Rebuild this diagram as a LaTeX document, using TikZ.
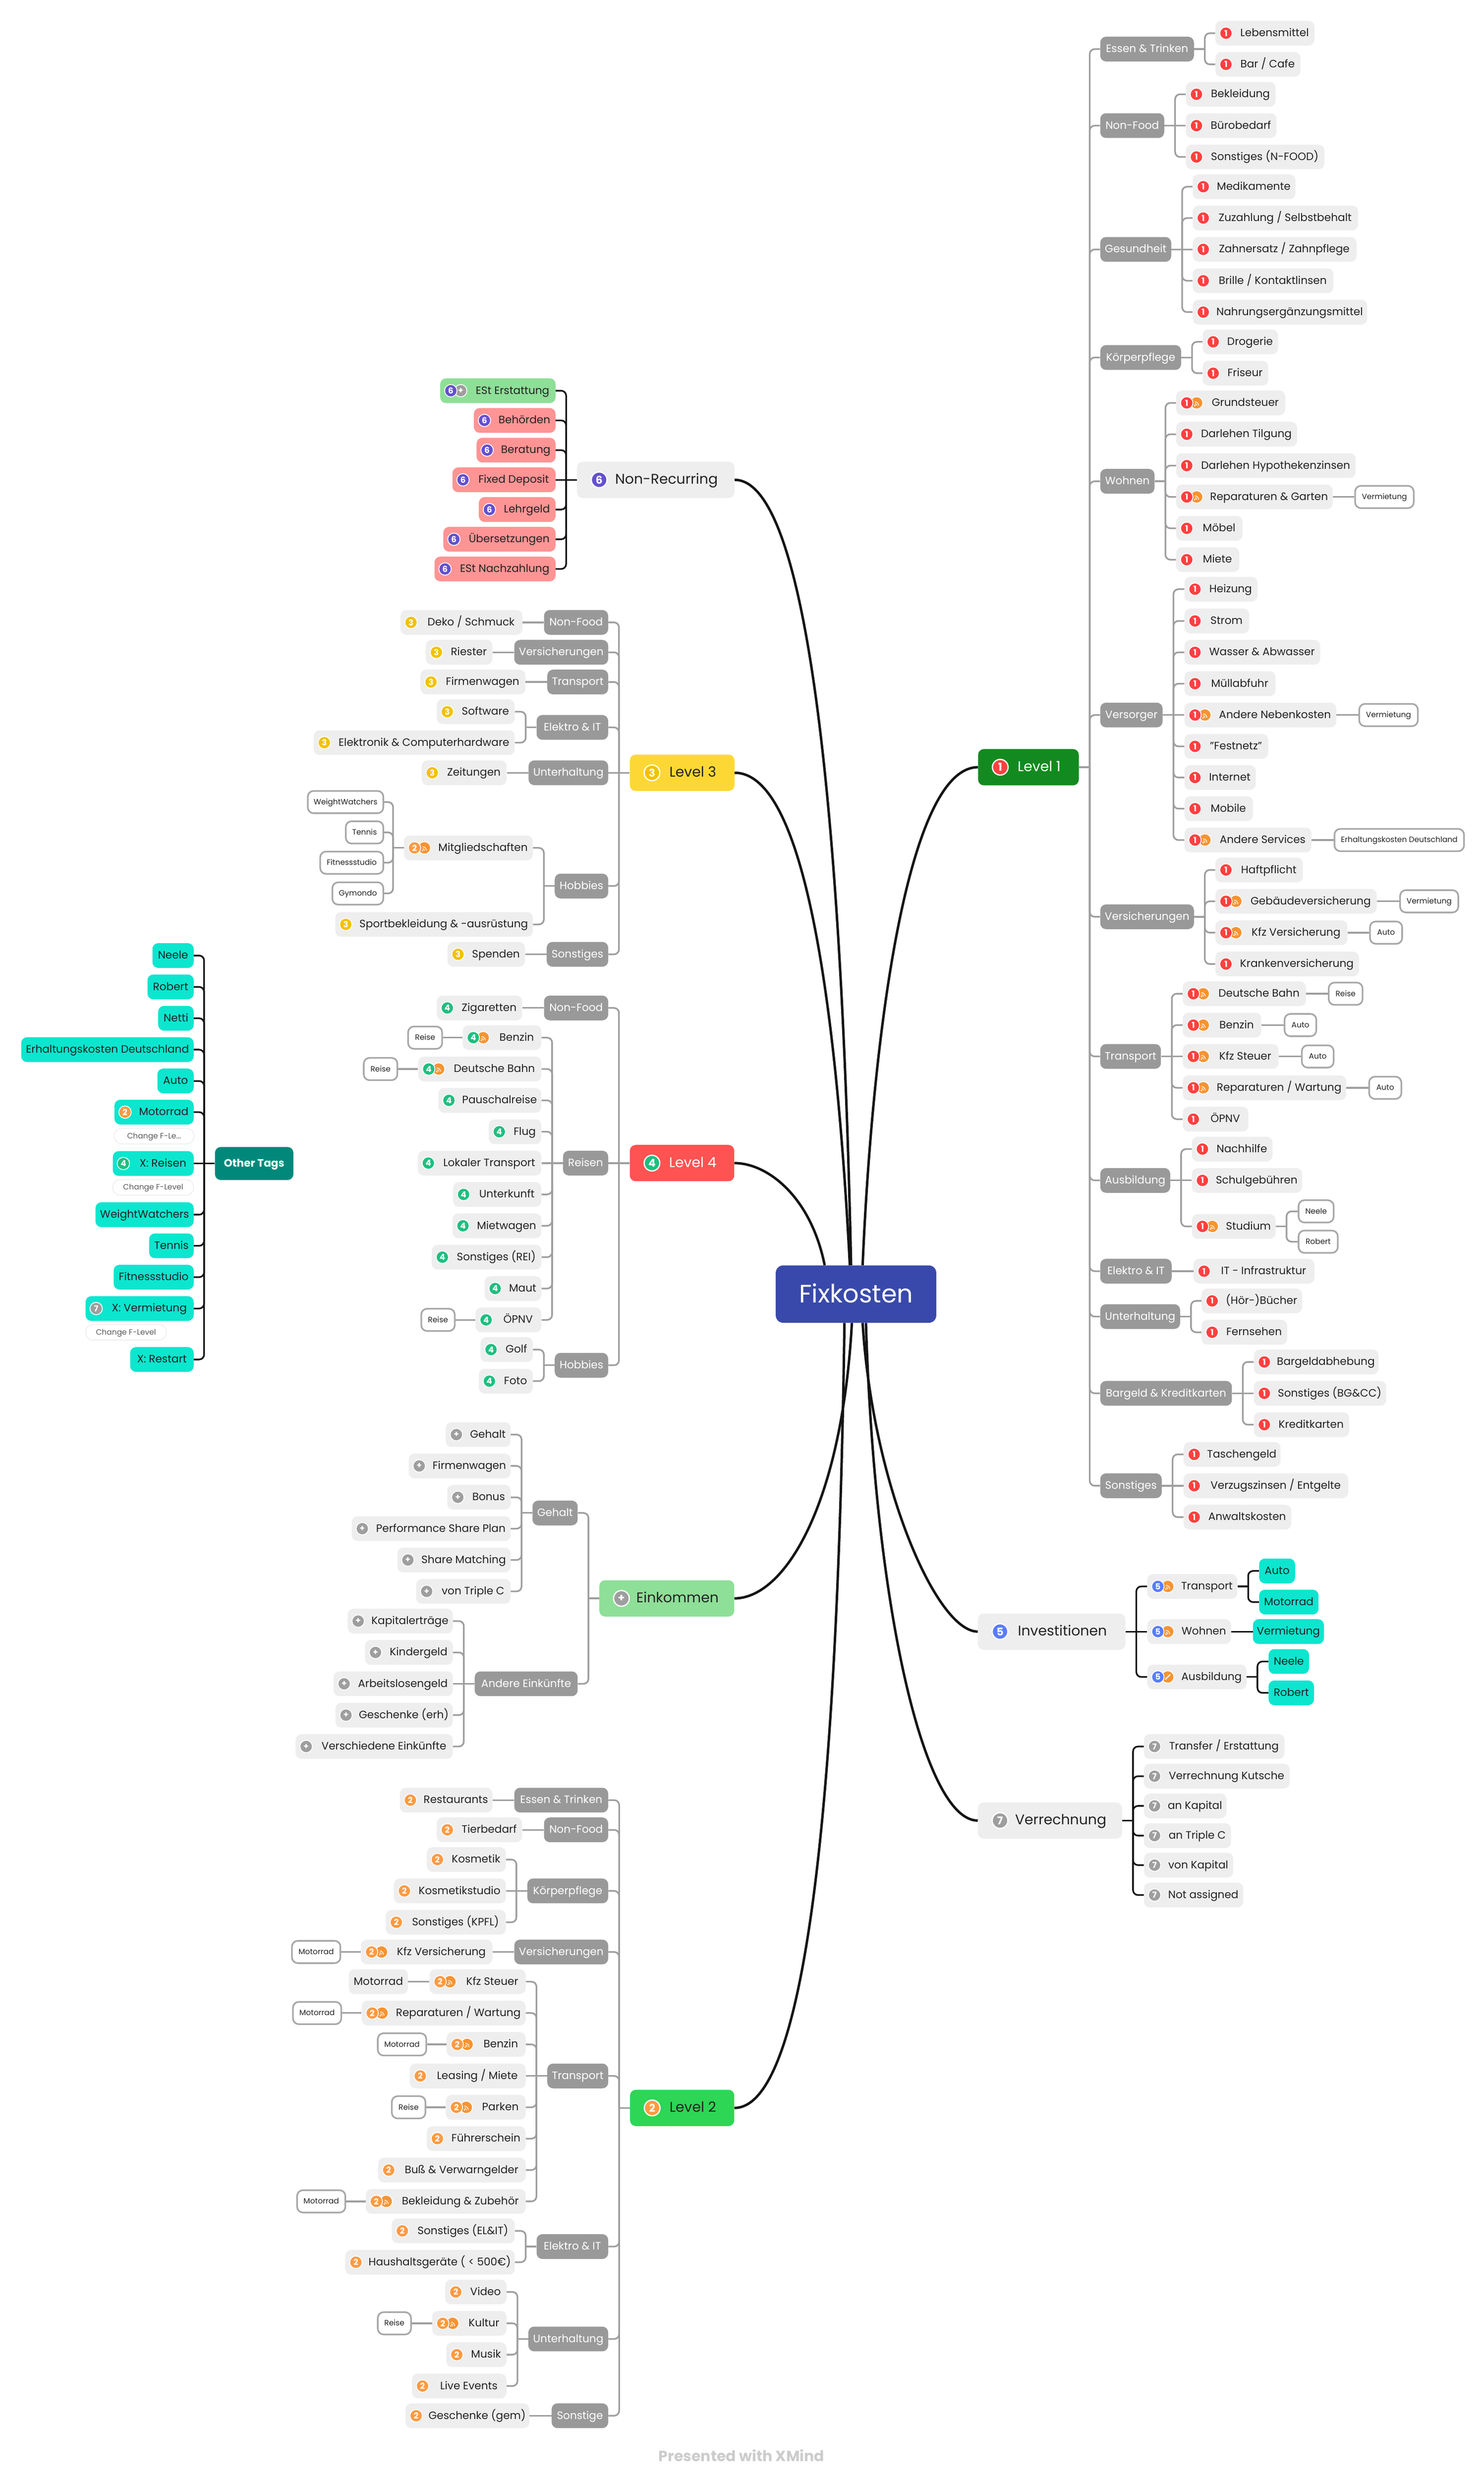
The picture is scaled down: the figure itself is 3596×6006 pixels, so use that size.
\documentclass[tikz,border=0pt]{standalone}
\usepackage{fontspec}
\setmainfont{Poppins}
\usetikzlibrary{calc}

\definecolor{topicgrey}{HTML}{EEEEEE}
\definecolor{subgrey}{HTML}{999999}
\definecolor{inkdark}{HTML}{222222}
\definecolor{lineink}{HTML}{141414}
\definecolor{linegrey}{HTML}{9E9E9E}
\definecolor{rootblue}{HTML}{3949AB}
\definecolor{lvlonefill}{HTML}{138A1F}
\definecolor{lvltwofill}{HTML}{2DD655}
\definecolor{lvlthreefill}{HTML}{FDD835}
\definecolor{lvlfourfill}{HTML}{FF5252}
\definecolor{incomefill}{HTML}{8EDF97}
\definecolor{cyanfill}{HTML}{0CE6CF}
\definecolor{tealfill}{HTML}{00897B}
\definecolor{pinkfill}{HTML}{FF9494}
\definecolor{badgeone}{HTML}{FF4040}
\definecolor{badgetwo}{HTML}{FF9A42}
\definecolor{badgethree}{HTML}{F2C200}
\definecolor{badgefour}{HTML}{1FBF80}
\definecolor{badgefive}{HTML}{5B7CFF}
\definecolor{badgesix}{HTML}{6450D0}
\definecolor{badgeseven}{HTML}{9E9E9E}
\definecolor{rssorange}{HTML}{F79433}

\newdimen\pxu \pxu=0.5pt
\newcommand{\topicfont}{\fontsize{13}{15}\selectfont}
\newcommand{\levelfont}{\fontsize{17}{20}\selectfont}
\newcommand{\tagfont}{\fontsize{9.3}{11}\selectfont}

\tikzset{
	topic/.style={fill=topicgrey,text=inkdark,rounded corners=7pt,minimum height=30pt,inner ysep=0pt,text height=10pt,text depth=2pt,font=\topicfont},
	subtopic/.style={topic,fill=subgrey,text=white},
	pinktopic/.style={topic,fill=pinkfill},
	cyantopic/.style={topic,fill=cyanfill},
	greentopic/.style={topic,fill=incomefill},
	tagbox/.style={topic,fill=white,draw=linegrey!90,line width=2pt,minimum height=27pt,font=\tagfont,text height=8pt,text depth=2pt},
	notebox/.style={topic,fill=white,draw=topicgrey,line width=1pt,rounded corners=9pt,minimum height=19pt,text=black!65,font=\tagfont,text height=8pt,text depth=2pt},
	levelbox/.style={topic,minimum height=44pt,font=\levelfont,text height=14pt,text depth=4pt},
	badge/.style={circle,draw=white,line width=1pt,minimum size=15pt,inner sep=0pt,text=white,font=\fontsize{10}{10}\selectfont\bfseries},
	bigbadge/.style={badge,line width=1.5pt,minimum size=19pt,font=\fontsize{13}{13}\selectfont\bfseries},
	greyline/.style={draw=linegrey,line width=2pt},
	blackline/.style={draw=lineink,line width=2pt},
	rootline/.style={draw=lineink,line width=3pt},
}

% box from left edge to right edge, text centred in the slot between the two paddings
\newcommand{\boxnode}[8]{%
	\pgfmathsetmacro{\boxslot}{#4-#3-#6-#7}%
	\node[#2,anchor=west,inner xsep=0pt] (#1) at (#3,#5) {\hspace*{#6\pxu}\makebox[\boxslot\pxu][c]{#8}\hspace*{#7\pxu}};}
\newcommand{\badgeon}[1]{\node[badge,fill=\curcol] (#1-d) at ($(#1.west)+(26,0)$) {\curnum};}
\newcommand{\rssmark}[1]{%
	\node[badge,fill=rssorange] (#1-r) at ($(#1.west)+(50,0)$) {};
	\fill[white] ($(#1-r)+(-2.2pt,-3.2pt)$) circle (1pt);
	\draw[white,line width=0.8pt] ($(#1-r)+(0.2pt,-3.2pt)$) arc[start angle=0,end angle=90,radius=2.4pt];
	\draw[white,line width=0.8pt] ($(#1-r)+(2.4pt,-3.2pt)$) arc[start angle=0,end angle=90,radius=4.6pt];}
\newcommand{\leaf}[6][topic]{\boxnode{#2}{#1}{#3}{#4}{#5}{60}{13}{#6}\badgeon{#2}}
\newcommand{\leafr}[6][topic]{\boxnode{#2}{#1}{#3}{#4}{#5}{84}{13}{#6}\rssmark{#2}\badgeon{#2}}
\newcommand{\subbox}[5]{\boxnode{#1}{subtopic}{#2}{#3}{#4}{0}{0}{#5}}
\newcommand{\tagnote}[5]{\boxnode{#1}{tagbox}{#2}{#3}{#4}{0}{0}{#5}}
\newcommand{\levelnode}[6]{%
	\boxnode{#1}{levelbox,fill=#2}{#3}{#4}{#5}{92}{40}{#6}
	\node[bigbadge,fill=\curcol] (#1-d) at ($(#1.west)+(54,0)$) {\curnum};}
% straight when the kid sits level with its parent, else an elbow from the bus
\newcommand{\kidlink}[4]{%
	\pgfextracty{\dimen0}{\pgfpointanchor{#3}{center}}%
	\pgfextracty{\dimen2}{\pgfpointanchor{#2}{center}}%
	\advance\dimen0 by -\dimen2
	\ifdim\ifdim\dimen0<0pt -\fi\dimen0<1pt
		\draw[#1] (bus) -- (#3.#4);
	\else
		\draw[#1,rounded corners=6pt] (bus) |- (#3.#4);
	\fi}
\newcommand{\fanright}[3][greyline]{%
	\draw[#1] (#2.east) -- ++(26,0) coordinate (bus);
	\foreach \kid in {#3} {\kidlink{#1}{#2}{\kid}{west}}}
\newcommand{\fanleft}[3][greyline]{%
	\draw[#1] (#2.west) -- ++(-26,0) coordinate (bus);
	\foreach \kid in {#3} {\kidlink{#1}{#2}{\kid}{east}}}

\begin{document}
\begin{tikzpicture}[x=0.5pt,y=-0.5pt]
	\useasboundingbox (0,0) rectangle (3596,6006);

	\node[topic,fill=rootblue,text=white,rounded corners=9pt,minimum width=194.5pt,minimum height=69.5pt,text height=25pt,text depth=4pt,font=\fontsize{30.5}{34}\selectfont] (fix) at (2074.5,3136.5) {Fixkosten};

	% level 1
	\def\curcol{badgeone}\def\curnum{1}
	\levelnode{lvlone}{lvlonefill}{2370}{2614}{1859.5}{\textcolor{white}{Level 1}}
	\subbox{oneEssen}{2666}{2893}{119}{Essen \& Trinken}
	\leaf{oneLebens}{2945}{3185}{80.5}{Lebensmittel}
	\leaf{oneBar}{2945}{3151}{156}{Bar / Cafe}
	\subbox{oneFood}{2666}{2821}{304.5}{Non-Food}
	\leaf{oneBekl}{2873.5}{3091}{228.5}{Bekleidung}
	\leaf{oneBuero}{2873.5}{3093}{304.5}{Bürobedarf}
	\leaf{oneNfood}{2873.5}{3209}{380.5}{Sonstiges (N-FOOD)}
	\subbox{oneGes}{2666}{2838}{604.5}{Gesundheit}
	\leaf{oneMedi}{2890}{3139}{452.5}{Medikamente}
	\leaf{oneZuz}{2890}{3291}{528.5}{Zuzahlung / Selbstbehalt}
	\leaf{oneZahn}{2890}{3287}{604.5}{Zahnersatz / Zahnpflege}
	\leaf{oneBrille}{2890}{3231}{680.5}{Brille / Kontaktlinsen}
	\leaf{oneNahr}{2890}{3313}{756.5}{Nahrungsergänzungsmittel}
	\subbox{oneKoerp}{2666}{2862}{866.5}{Körperpflege}
	\leaf{oneDrog}{2914}{3097}{828.5}{Drogerie}
	\leaf{oneFris}{2914}{3073}{904.5}{Friseur}
	\subbox{oneWohn}{2666}{2797.5}{1166.5}{Wohnen}
	\leafr{oneGrund}{2850}{3114}{976.5}{Grundsteuer}
	\leaf{oneTilg}{2850}{3143}{1052.5}{Darlehen Tilgung}
	\leaf{oneHypo}{2850}{3285}{1128.5}{Darlehen Hypothekenzinsen}
	\leafr{oneGarten}{2850}{3229}{1204.5}{Reparaturen \& Garten}
	\tagnote{oneGartenT}{3282}{3424}{1204.5}{Vermietung}
	\leaf{oneMoeb}{2850}{3011}{1280.5}{Möbel}
	\leaf{oneMiete}{2850}{3003}{1356.5}{Miete}
	\subbox{oneVers}{2666}{2817}{1733}{Versorger}
	\leaf{oneHeiz}{2870}{3047}{1428}{Heizung}
	\leaf{oneStrom}{2870}{3027}{1505}{Strom}
	\leaf{oneWasser}{2870}{3199}{1581}{Wasser \& Abwasser}
	\leaf{oneMuell}{2870}{3091}{1657}{Müllabfuhr}
	\leafr{oneNeben}{2870}{3238}{1733}{Andere Nebenkosten}
	\tagnote{oneNebenT}{3292}{3434}{1733}{Vermietung}
	\leaf{oneFest}{2870}{3073}{1809}{"Festnetz"}
	\leaf{oneNet}{2870}{3043}{1884.5}{Internet}
	\leaf{oneMob}{2870}{3036}{1960}{Mobile}
	\leafr{oneServ}{2870}{3178}{2036}{Andere Services}
	\tagnote{oneServT}{3232}{3546}{2036}{Erhaltungskosten Deutschland}
	\subbox{oneInsur}{2666}{2893}{2222}{Versicherungen}
	\leaf{oneHaft}{2945}{3157}{2108.5}{Haftpflicht}
	\leafr{oneGeb}{2945}{3336}{2184.5}{Gebäudeversicherung}
	\tagnote{oneGebT}{3391}{3532}{2184.5}{Vermietung}
	\leafr{oneKfz}{2945}{3265}{2260.5}{Kfz Versicherung}
	\tagnote{oneKfzT}{3318}{3396}{2260.5}{Auto}
	\leaf{oneKrank}{2945}{3293}{2336.5}{Krankenversicherung}
	\subbox{oneTrans}{2666}{2813}{2560.5}{Transport}
	\leafr{oneBahn}{2866}{3164.5}{2408.5}{Deutsche Bahn}
	\tagnote{oneBahnT}{3218}{3300}{2408.5}{Reise}
	\leafr{oneBenz}{2866}{3056}{2484.5}{Benzin}
	\tagnote{oneBenzT}{3111}{3188}{2484.5}{Auto}
	\leafr{oneSteuer}{2866}{3098}{2560.5}{Kfz Steuer}
	\tagnote{oneSteuerT}{3153}{3230}{2560.5}{Auto}
	\leafr{oneRep}{2866}{3262}{2636.5}{Reparaturen / Wartung}
	\tagnote{oneRepT}{3316}{3394}{2636.5}{Auto}
	\leaf{oneOepnv}{2866}{3025}{2712.5}{ÖPNV}
	\subbox{oneAus}{2666}{2835.5}{2861}{Ausbildung}
	\leaf{oneNach}{2888}{3083.5}{2785}{Nachhilfe}
	\leaf{oneSchul}{2888}{3155}{2861}{Schulgebühren}
	\leafr{oneStud}{2888}{3091}{2972.5}{Studium}
	\tagnote{oneNeele}{3145}{3230}{2936}{Neele}
	\tagnote{oneRobert}{3145}{3240}{3009.5}{Robert}
	\subbox{oneElek}{2666}{2839}{3081}{Elektro \& IT}
	\leaf{oneInfra}{2892}{3185}{3081}{IT - Infrastruktur}
	\subbox{oneUnter}{2666}{2859.5}{3191}{Unterhaltung}
	\leaf{oneBuch}{2911.5}{3155}{3153}{(Hör-)Bücher}
	\leaf{oneFern}{2911.5}{3119}{3229}{Fernsehen}
	\subbox{oneBar2}{2666}{2985}{3377}{Bargeld \& Kreditkarten}
	\leaf{oneAbheb}{3038}{3340.5}{3301}{Bargeldabhebung}
	\leaf{oneBgcc}{3038}{3359}{3377}{Sonstiges (BG\&CC)}
	\leaf{oneKredit}{3038}{3269}{3453}{Kreditkarten}
	\subbox{oneSonst}{2666}{2815}{3601}{Sonstiges}
	\leaf{oneTasch}{2868}{3103}{3525}{Taschengeld}
	\leaf{oneVerzug}{2868}{3267}{3601}{Verzugszinsen / Entgelte}
	\leaf{oneAnwalt}{2868}{3129}{3677}{Anwaltskosten}

	\fanright{lvlone}{oneEssen,oneFood,oneGes,oneKoerp,oneWohn,oneVers,oneInsur,oneTrans,oneAus,oneElek,oneUnter,oneBar2,oneSonst}
	\fanright{oneEssen}{oneLebens,oneBar}
	\fanright{oneFood}{oneBekl,oneBuero,oneNfood}
	\fanright{oneGes}{oneMedi,oneZuz,oneZahn,oneBrille,oneNahr}
	\fanright{oneKoerp}{oneDrog,oneFris}
	\fanright{oneWohn}{oneGrund,oneTilg,oneHypo,oneGarten,oneMoeb,oneMiete}
	\fanright{oneGarten}{oneGartenT}
	\fanright{oneVers}{oneHeiz,oneStrom,oneWasser,oneMuell,oneNeben,oneFest,oneNet,oneMob,oneServ}
	\fanright{oneNeben}{oneNebenT}
	\fanright{oneServ}{oneServT}
	\fanright{oneInsur}{oneHaft,oneGeb,oneKfz,oneKrank}
	\fanright{oneGeb}{oneGebT}
	\fanright{oneKfz}{oneKfzT}
	\fanright{oneTrans}{oneBahn,oneBenz,oneSteuer,oneRep,oneOepnv}
	\fanright{oneBahn}{oneBahnT}
	\fanright{oneBenz}{oneBenzT}
	\fanright{oneSteuer}{oneSteuerT}
	\fanright{oneRep}{oneRepT}
	\fanright{oneAus}{oneNach,oneSchul,oneStud}
	\fanright{oneStud}{oneNeele,oneRobert}
	\fanright{oneElek}{oneInfra}
	\fanright{oneUnter}{oneBuch,oneFern}
	\fanright{oneBar2}{oneAbheb,oneBgcc,oneKredit}
	\fanright{oneSonst}{oneTasch,oneVerzug,oneAnwalt}

	% investments
	\def\curcol{badgefive}\def\curnum{5}
	\levelnode{invest}{topicgrey}{2369.5}{2727}{3954.5}{Investitionen}
	\leafr{invTrans}{2780}{2998}{3845}{Transport}
	\leafr{invWohn}{2780}{2983}{3954.5}{Wohnen}
	\boxnode{invAus}{topic}{2780}{3020.5}{4064.5}{84}{13}{Ausbildung}
	\node[badge,fill=rssorange] (invAus-r) at ($(invAus.west)+(50,0)$) {};
	\draw[white,line width=1.4pt] ($(invAus-r)+(-3pt,-3pt)$) -- ($(invAus-r)+(3pt,3pt)$);
	\badgeon{invAus}
	\boxnode{invAuto}{cyantopic}{3051}{3138}{3807.5}{0}{0}{Auto}
	\boxnode{invMoto}{cyantopic}{3051}{3195}{3883}{0}{0}{Motorrad}
	\boxnode{invVerm}{cyantopic}{3036}{3208}{3954.5}{0}{0}{Vermietung}
	\boxnode{invNeele}{cyantopic}{3074}{3172}{4027}{0}{0}{Neele}
	\boxnode{invRobert}{cyantopic}{3074}{3184}{4103}{0}{0}{Robert}
	\fanright[blackline]{invest}{invTrans,invWohn,invAus}
	\fanright[blackline]{invTrans}{invAuto,invMoto}
	\fanright[blackline]{invWohn}{invVerm}
	\fanright[blackline]{invAus}{invNeele,invRobert}

	% clearing
	\def\curcol{badgeseven}\def\curnum{7}
	\levelnode{clearing}{topicgrey}{2369.5}{2719}{4412.5}{Verrechnung}
	\leaf{clrTransfer}{2772}{3112.5}{4233}{Transfer / Erstattung}
	\leaf{clrKutsche}{2772}{3125}{4305}{Verrechnung Kutsche}
	\leaf{clrAnKap}{2772}{2972}{4377}{an Kapital}
	\leaf{clrAnTri}{2772}{2983}{4449}{an Triple C}
	\leaf{clrVonKap}{2772}{2988}{4520.5}{von Kapital}
	\leaf{clrNot}{2772}{3012.5}{4593}{Not assigned}
	\fanright[blackline]{clearing}{clrTransfer,clrKutsche,clrAnKap,clrAnTri,clrVonKap,clrNot}

	% non recurring
	\def\curcol{badgesix}\def\curnum{6}
	\levelnode{nonrec}{topicgrey}{1398}{1779.5}{1163}{Non-Recurring}
	\boxnode{nrErst}{greentopic}{1066.5}{1346}{947}{84}{13}{ESt Erstattung}
	\node[badge,fill=badgeseven] (nrErst-r) at ($(nrErst.west)+(50,0)$) {+};
	\badgeon{nrErst}
	\leaf[pinktopic]{nrBehoerd}{1148}{1346}{1019}{Behörden}
	\leaf[pinktopic]{nrBerat}{1154.5}{1346}{1091}{Beratung}
	\leaf[pinktopic]{nrFixed}{1096}{1346}{1163}{Fixed Deposit}
	\leaf[pinktopic]{nrLehr}{1160}{1346}{1235}{Lehrgeld}
	\leaf[pinktopic]{nrUeber}{1074}{1346}{1307}{Übersetzungen}
	\leaf[pinktopic]{nrNach}{1052.5}{1346}{1379}{ESt Nachzahlung}
	\fanleft[blackline]{nonrec}{nrErst,nrBehoerd,nrBerat,nrFixed,nrLehr,nrUeber,nrNach}

	% level 3
	\def\curcol{badgethree}\def\curnum{3}
	\levelnode{lvlthree}{lvlthreefill}{1526}{1779.5}{1873}{Level 3}
	\subbox{thrFood}{1318}{1473.5}{1508.5}{Non-Food}
	\leaf{thrDeko}{970}{1265.5}{1508.5}{Deko / Schmuck}
	\subbox{thrVers}{1246}{1473.5}{1581}{Versicherungen}
	\leaf{thrRiester}{1031.5}{1193}{1581}{Riester}
	\subbox{thrTrans}{1326}{1473.5}{1653}{Transport}
	\leaf{thrFirma}{1018.5}{1273}{1653}{Firmenwagen}
	\subbox{thrElek}{1300}{1473.5}{1763}{Elektro \& IT}
	\leaf{thrSoft}{1058}{1247}{1725}{Software}
	\leaf{thrHard}{760}{1247}{1800}{Elektronik \& Computerhardware}
	\subbox{thrUnter}{1280.5}{1473.5}{1873}{Unterhaltung}
	\leaf{thrZeit}{1021.5}{1227.5}{1873}{Zeitungen}
	\subbox{thrHobby}{1344}{1473.5}{2147.5}{Hobbies}
	\def\curcol{badgetwo}\def\curnum{2}
	\leafr{thrMitgl}{978.5}{1291}{2055}{Mitgliedschaften}
	\def\curcol{badgethree}\def\curnum{3}
	\leaf{thrSport}{812}{1291}{2240.5}{Sportbekleidung \& -ausrüstung}
	\tagnote{thrWeight}{744}{927}{1944}{WeightWatchers}
	\tagnote{thrTennis}{836}{927}{2017.5}{Tennis}
	\tagnote{thrFit}{774}{927}{2091}{Fitnessstudio}
	\tagnote{thrGym}{803.5}{927}{2165.5}{Gymondo}
	\subbox{thrSonst}{1324.5}{1473.5}{2313}{Sonstiges}
	\leaf{thrSpend}{1084}{1272}{2313}{Spenden}
	\fanleft{lvlthree}{thrFood,thrVers,thrTrans,thrElek,thrUnter,thrHobby,thrSonst}
	\fanleft{thrFood}{thrDeko}
	\fanleft{thrVers}{thrRiester}
	\fanleft{thrTrans}{thrFirma}
	\fanleft{thrElek}{thrSoft,thrHard}
	\fanleft{thrUnter}{thrZeit}
	\fanleft{thrHobby}{thrMitgl,thrSport}
	\fanleft{thrMitgl}{thrWeight,thrTennis,thrFit,thrGym}
	\fanleft{thrSonst}{thrSpend}

	% other tags
	\node[topic,fill=tealfill,text=white,minimum width=95pt,minimum height=40pt,font=\fontsize{13}{15}\selectfont\bfseries] (other) at (616,2820) {Other Tags};
	\boxnode{tagNeele}{cyantopic}{369}{469}{2316}{0}{0}{Neele}
	\boxnode{tagRobert}{cyantopic}{357}{469}{2392}{0}{0}{Robert}
	\boxnode{tagNetti}{cyantopic}{383}{469}{2468}{0}{0}{Netti}
	\boxnode{tagErhalt}{cyantopic}{51}{469}{2544}{0}{0}{Erhaltungskosten Deutschland}
	\boxnode{tagAuto}{cyantopic}{381}{469}{2620}{0}{0}{Auto}
	\def\curcol{badgetwo}\def\curnum{2}
	\leaf[cyantopic]{tagMoto}{277}{469}{2695.5}{Motorrad}
	\boxnode{noteMoto}{notebox}{276}{469}{2753.5}{0}{0}{Change F-Le...}
	\def\curcol{badgefour}\def\curnum{4}
	\leaf[cyantopic]{tagReisen}{273}{469}{2820}{X: Reisen}
	\boxnode{noteReisen}{notebox}{272.5}{468}{2878}{0}{0}{Change F-Level}
	\boxnode{tagWeight}{cyantopic}{231}{469}{2944}{0}{0}{WeightWatchers}
	\boxnode{tagTennis}{cyantopic}{361}{469}{3019.5}{0}{0}{Tennis}
	\boxnode{tagFit}{cyantopic}{275}{469}{3095.5}{0}{0}{Fitnessstudio}
	\def\curcol{badgeseven}\def\curnum{7}
	\leaf[cyantopic]{tagVerm}{207}{469}{3171.5}{X: Vermietung}
	\boxnode{noteVerm}{notebox}{206.5}{402}{3229}{0}{0}{Change F-Level}
	\boxnode{tagRestart}{cyantopic}{315}{469}{3295}{0}{0}{X: Restart}
	\fanleft[blackline]{other}{tagNeele,tagRobert,tagNetti,tagErhalt,tagAuto,tagMoto,tagReisen,tagWeight,tagTennis,tagFit,tagVerm,tagRestart}

	% level 4
	\def\curcol{badgefour}\def\curnum{4}
	\levelnode{lvlfour}{lvlfourfill}{1526}{1779}{2819}{\textcolor{white}{Level 4}}
	\subbox{forFood}{1318}{1473.5}{2443}{Non-Food}
	\leaf{forZig}{1058}{1265}{2443}{Zigaretten}
	\subbox{forReisen}{1364}{1473.5}{2819}{Reisen}
	\leafr{forBenz}{1121}{1311.5}{2515}{Benzin}
	\tagnote{forBenzT}{987}{1069.5}{2515}{Reise}
	\leafr{forBahn}{1013}{1311.5}{2591}{Deutsche Bahn}
	\tagnote{forBahnT}{879.5}{961}{2591}{Reise}
	\leaf{forPausch}{1062}{1311.5}{2667}{Pauschalreise}
	\leaf{forFlug}{1184}{1311.5}{2743}{Flug}
	\leaf{forLokal}{1012}{1311.5}{2819}{Lokaler Transport}
	\leaf{forUnter}{1097.5}{1311.5}{2895}{Unterkunft}
	\leaf{forMiet}{1096}{1311.5}{2971}{Mietwagen}
	\leaf{forRei}{1046}{1311.5}{3047}{Sonstiges (REI)}
	\leaf{forMaut}{1174}{1311.5}{3123}{Maut}
	\leaf{forOepnv}{1152}{1311.5}{3199}{ÖPNV}
	\tagnote{forOepnvT}{1019}{1100}{3199}{Reise}
	\subbox{forHobby}{1344}{1473.5}{3309}{Hobbies}
	\leaf{forGolf}{1164}{1291}{3271}{Golf}
	\leaf{forFoto}{1160}{1291}{3347.5}{Foto}
	\fanleft{lvlfour}{forFood,forReisen,forHobby}
	\fanleft{forFood}{forZig}
	\fanleft{forReisen}{forBenz,forBahn,forPausch,forFlug,forLokal,forUnter,forMiet,forRei,forMaut,forOepnv}
	\fanleft{forBenz}{forBenzT}
	\fanleft{forBahn}{forBahnT}
	\fanleft{forOepnv}{forOepnvT}
	\fanleft{forHobby}{forGolf,forFoto}

	% income
	\def\curcol{badgeseven}\def\curnum{+}
	\levelnode{income}{incomefill}{1452}{1779}{3874}{Einkommen}
	\subbox{incGehalt}{1290}{1399.5}{3667}{Gehalt}
	\leaf{incG1}{1080}{1237}{3477}{Gehalt}
	\leaf{incG2}{990}{1237}{3553}{Firmenwagen}
	\leaf{incG3}{1083.5}{1237}{3629}{Bonus}
	\leaf{incG4}{852}{1237}{3705}{Performance Share Plan}
	\leaf{incG5}{962.5}{1237}{3781}{Share Matching}
	\leaf{incG6}{1008}{1237}{3857}{von Triple C}
	\subbox{incAndere}{1150}{1399.5}{4081}{Andere Einkünfte}
	\leaf{incA1}{842}{1097}{3929}{Kapitalerträge}
	\leaf{incA2}{884}{1097}{4005}{Kindergeld}
	\leaf{incA3}{808}{1097}{4081}{Arbeitslosengeld}
	\leaf{incA4}{812.5}{1097}{4157}{Geschenke (erh)}
	\leaf{incA5}{716}{1097}{4233}{Verschiedene Einkünfte}
	\fanleft{income}{incGehalt,incAndere}
	\fanleft{incGehalt}{incG1,incG2,incG3,incG4,incG5,incG6}
	\fanleft{incAndere}{incA1,incA2,incA3,incA4,incA5}

	% level 2
	\def\curcol{badgetwo}\def\curnum{2}
	\levelnode{lvltwo}{lvltwofill}{1526.5}{1779}{5109}{Level 2}
	\subbox{twoEssen}{1246}{1473.5}{4363}{Essen \& Trinken}
	\leaf{twoRest}{968.5}{1193}{4363}{Restaurants}
	\subbox{twoFood}{1318}{1473.5}{4435}{Non-Food}
	\leaf{twoTier}{1058}{1265}{4435}{Tierbedarf}
	\subbox{twoKoerp}{1277.5}{1473.5}{4583}{Körperpflege}
	\leaf{twoKosm}{1034}{1225.5}{4507}{Kosmetik}
	\leaf{twoStudio}{954}{1225.5}{4583}{Kosmetikstudio}
	\leaf{twoKpfl}{934.5}{1225.5}{4659}{Sonstiges (KPFL)}
	\subbox{twoVers}{1246}{1473.5}{4731}{Versicherungen}
	\leafr{twoKfz}{874.5}{1193}{4731}{Kfz Versicherung}
	\tagnote{twoKfzT}{705.5}{823}{4731}{Motorrad}
	\subbox{twoTrans}{1326}{1473.5}{5031.5}{Transport}
	\leafr{twoSteuer}{1040.5}{1273.5}{4803}{Kfz Steuer}
	\boxnode{twoSteuerT}{topic}{845}{988}{4803}{0}{0}{Motorrad}
	\leafr{twoRep}{876}{1273.5}{4879}{Reparaturen / Wartung}
	\tagnote{twoRepT}{708}{825}{4879}{Motorrad}
	\leafr{twoBenz}{1082}{1273.5}{4955}{Benzin}
	\tagnote{twoBenzT}{913.5}{1031}{4955}{Motorrad}
	\leaf{twoLeas}{992.5}{1273.5}{5031.5}{Leasing / Miete}
	\leafr{twoPark}{1080}{1273.5}{5107.5}{Parken}
	\tagnote{twoParkT}{947.5}{1029}{5107.5}{Reise}
	\leaf{twoFuehr}{1034}{1273.5}{5183.5}{Führerschein}
	\leaf{twoBuss}{916}{1273.5}{5259.5}{Buß \& Verwarngelder}
	\leafr{twoBekl}{886}{1273.5}{5335.5}{Bekleidung \& Zubehör}
	\tagnote{twoBeklT}{718}{835}{5335.5}{Motorrad}
	\subbox{twoElek}{1300}{1473.5}{5445}{Elektro \& IT}
	\leaf{twoElit}{949}{1247}{5407}{Sonstiges (EL\&IT)}
	\leaf{twoHaus}{836.5}{1247}{5483}{Haushaltsgeräte ( < 500€)}
	\subbox{twoUnter}{1280}{1473.5}{5669}{Unterhaltung}
	\leaf{twoVideo}{1078.5}{1227}{5555}{Video}
	\leafr{twoKultur}{1047}{1227}{5631}{Kultur}
	\tagnote{twoKulturT}{913.5}{994}{5631}{Reise}
	\leaf{twoMusik}{1081}{1227}{5707}{Musik}
	\leaf{twoLive}{998}{1227}{5783}{Live Events}
	\subbox{twoSonst}{1336.5}{1473.5}{5855}{Sonstige}
	\leaf{twoGesch}{982.5}{1282.5}{5855}{Geschenke (gem)}
	\fanleft{lvltwo}{twoEssen,twoFood,twoKoerp,twoVers,twoTrans,twoElek,twoUnter,twoSonst}
	\fanleft{twoEssen}{twoRest}
	\fanleft{twoFood}{twoTier}
	\fanleft{twoKoerp}{twoKosm,twoStudio,twoKpfl}
	\fanleft{twoVers}{twoKfz}
	\fanleft{twoKfz}{twoKfzT}
	\fanleft{twoTrans}{twoSteuer,twoRep,twoBenz,twoLeas,twoPark,twoFuehr,twoBuss,twoBekl}
	\fanleft{twoSteuer}{twoSteuerT}
	\fanleft{twoRep}{twoRepT}
	\fanleft{twoBenz}{twoBenzT}
	\fanleft{twoPark}{twoParkT}
	\fanleft{twoBekl}{twoBeklT}
	\fanleft{twoElek}{twoElit,twoHaus}
	\fanleft{twoUnter}{twoVideo,twoKultur,twoMusik,twoLive}
	\fanleft{twoKultur}{twoKulturT}
	\fanleft{twoSonst}{twoGesch}

	% curves from the centre
	\draw[rootline] (lvlone.west) .. controls +(-170,0) and (2115,2500) .. ($(fix.north)+(16,0)$);
	\draw[rootline] (nonrec.east) .. controls +(180,0) and (2040,2000) .. ($(fix.north)+(-12,0)$);
	\draw[rootline] (lvlthree.east) .. controls +(180,0) and (2030,2500) .. ($(fix.north)+(-15,0)$);
	\draw[rootline] (lvlfour.east) .. controls +(80,0) and (1965,2900) .. ($(fix.north)+(-76,0)$);
	\draw[rootline] (income.east) .. controls +(121,0) and (2040,3650) .. ($(fix.south)+(-10,0)$);
	\draw[rootline] (lvltwo.east) .. controls +(211,0) and (2035,4000) .. ($(fix.south)+(-28,0)$);
	\draw[rootline] (invest.west) .. controls +(-100,0) and (2115,3600) .. ($(fix.south)+(16,0)$);
	\draw[rootline] (clearing.west) .. controls +(-130,0) and (2120,3900) .. ($(fix.south)+(24,0)$);

	\node[text=black!20,font=\fontsize{18}{21}\selectfont\bfseries] (credit) at (1797,5951) {Presented with XMind};
\end{tikzpicture}
\end{document}
